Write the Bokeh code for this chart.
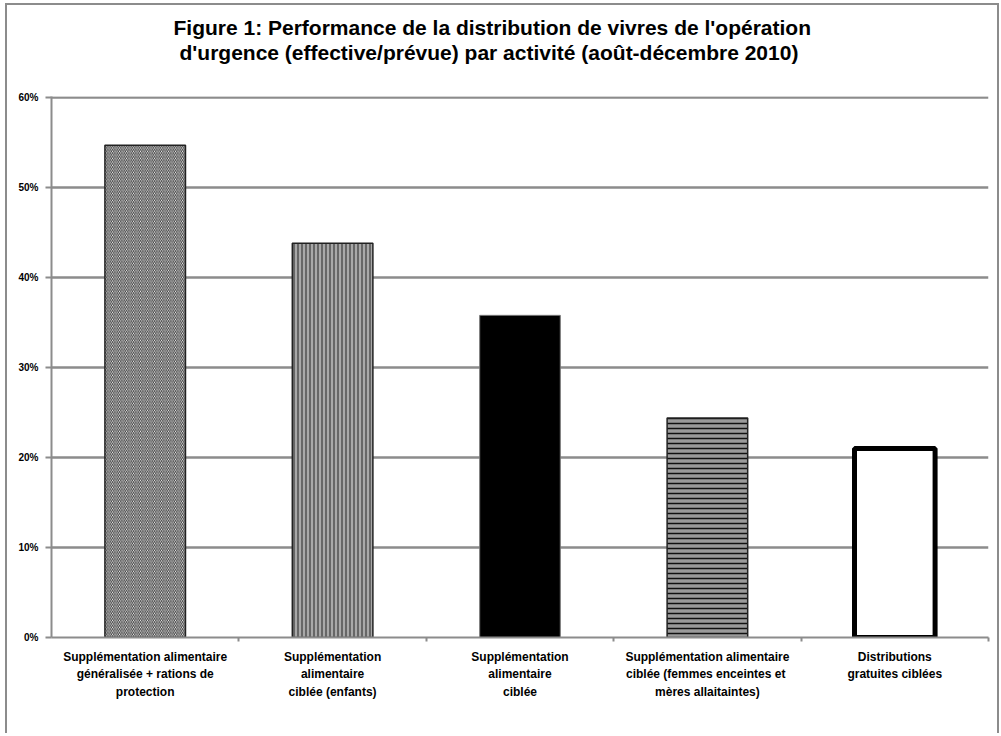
from bokeh.plotting import figure
from bokeh.models import FixedTicker, NumeralTickFormatter, Title, Range1d
from bokeh.embed import file_html
from bokeh.resources import INLINE

# ---- data ----
categories = [
    "Supplémentation alimentaire\ngénéralisée + rations de\nprotection",
    "Supplémentation\nalimentaire\nciblée (enfants)",
    "Supplémentation\nalimentaire\nciblée",
    "Supplémentation alimentaire\nciblée (femmes enceintes  et\nmères allaitaintes)",
    "Distributions\ngratuites ciblées",
]
values = [0.547, 0.438, 0.358, 0.244, 0.210]
y_ticks = [0.0, 0.1, 0.2, 0.3, 0.4, 0.5, 0.6]
title_lines = [
    "Figure 1: Performance de la distribution de vivres de l'opération",
    "d'urgence (effective/prévue)  par activité (août-décembre  2010)",
]

# ---- styles (one per bar) ----
bar_styles = [
    dict(fill_color="white", hatch_pattern="\\", hatch_color="#333333", hatch_scale=3.5, hatch_weight=1, line_color="#222222", line_width=1.5),
    dict(fill_color="#a8a8a8", hatch_pattern="|", hatch_color="#555555", hatch_scale=4, hatch_weight=1.6, line_color="#222222", line_width=1.5),
    dict(fill_color="black", line_color="#777777", line_width=1),
    dict(fill_color="#9a9a9a", hatch_pattern="-", hatch_color="#111111", hatch_scale=5, hatch_weight=1.5, line_color="#222222", line_width=1.5),
    dict(fill_color="white", line_color="black", line_width=5),
]
title_offsets = [122, 128]

GRID = "#8c8c8c"
FONT = "Liberation Sans"

n = len(categories)
centers = [i + 0.5 for i in range(n)]

p = figure(
    output_backend="svg", toolbar_location=None,
    frame_width=937, frame_height=541,
    x_range=Range1d(0, n), y_range=Range1d(0, 0.6012),
    min_border_left=44, min_border_right=9, min_border_top=91, min_border_bottom=96,
    background_fill_color="white", border_fill_color="white",
)
p.outline_line_color = None
p.styles = {"margin-left": "5px", "margin-top": "3px",
            "border-left": "2px solid #8c8c8c", "border-top": "2px solid #8c8c8c",
            "border-right": "2px solid #8c8c8c"}

for i in range(n):
    p.vbar(x=[centers[i]], top=[values[i]], width=0.43, bottom=0, **bar_styles[i])

# spacer between the title and the plot area
p.add_layout(Title(text=" ", text_font=FONT, text_font_size="24px", standoff=4), "above")
# title (two lines), bottom line first (nearest the frame)
for k in (1, 0):
    t = Title(text=title_lines[k], align="left", text_font=FONT, text_font_size="21px",
              text_font_style="bold", text_color="black", offset=title_offsets[k],
              standoff=0)
    p.add_layout(t, "above")

# y axis
ya = p.yaxis[0]
ya.ticker = FixedTicker(ticks=y_ticks)
ya.formatter = NumeralTickFormatter(format="0%")
ya.axis_line_color = GRID
ya.axis_line_width = 2
ya.major_tick_line_color = GRID
ya.major_tick_line_width = 2
ya.major_tick_out = 6
ya.major_tick_in = 0
ya.minor_tick_line_color = None
ya.major_label_text_font = FONT
ya.major_label_text_font_size = "10px"
ya.major_label_text_font_style = "bold"
ya.major_label_text_color = "black"
ya.major_label_standoff = 7

# x axis
xa = p.xaxis[0]
xa.ticker = FixedTicker(ticks=centers, minor_ticks=list(range(1, n + 1)))
xa.major_label_overrides = {c: lab for c, lab in zip(centers, categories)}
xa.axis_line_color = GRID
xa.axis_line_width = 2
xa.major_tick_line_color = None
xa.major_tick_out = 0
xa.major_tick_in = 0
xa.minor_tick_line_color = GRID
xa.minor_tick_line_width = 2
xa.minor_tick_out = 4
xa.minor_tick_in = 0
xa.major_label_text_font = FONT
xa.major_label_text_font_size = "12px"
xa.major_label_text_font_style = "bold"
xa.major_label_text_color = "black"
xa.major_label_text_line_height = 1.25
xa.major_label_standoff = 8

p.xgrid.grid_line_color = None
p.ygrid.ticker = FixedTicker(ticks=y_ticks)
p.ygrid.grid_line_color = GRID
p.ygrid.grid_line_width = 2.5

open("out.html", "w").write(file_html(p, INLINE))
